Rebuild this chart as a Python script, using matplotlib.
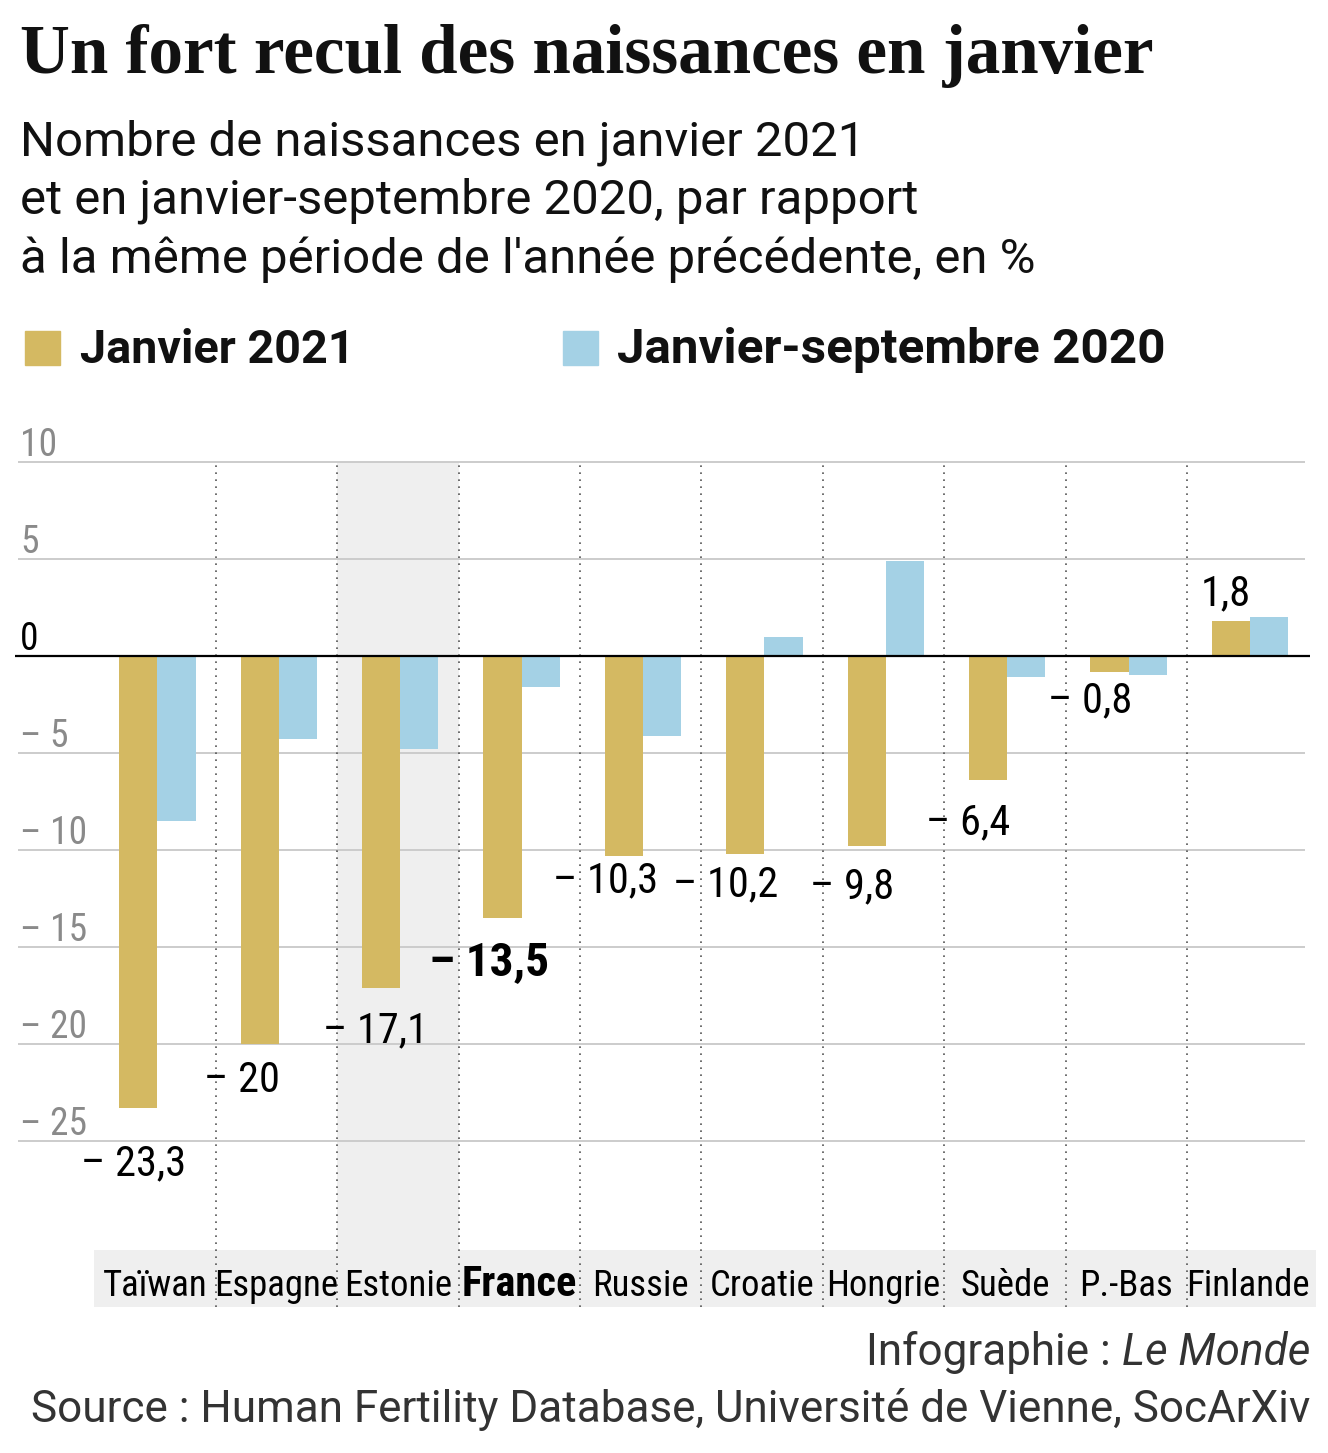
import matplotlib
matplotlib.use("Agg")
import matplotlib.pyplot as plt
from matplotlib import font_manager
from matplotlib.patches import Rectangle

# ---------------- data ----------------
countries = ["Taïwan", "Espagne", "Estonie", "France", "Russie",
             "Croatie", "Hongrie", "Suède", "P.-Bas", "Finlande"]
jan_2021 = [-23.3, -20.0, -17.1, -13.5, -10.3, -10.2, -9.8, -6.4, -0.8, 1.8]
jan_sep_2020 = [-8.5, -4.3, -4.8, -1.6, -4.1, 1.0, 4.9, -1.1, -1.0, 2.0]
value_labels = ["– 23,3", "– 20", "– 17,1", "– 13,5", "– 10,3",
                "– 10,2", "– 9,8", "– 6,4", "– 0,8", "1,8"]
yticks = [10, 5, 0, -5, -10, -15, -20, -25]
ytick_labels = ["10", "5", "0", "– 5", "– 10", "– 15", "– 20", "– 25"]
highlight = "France"
shaded = "Estonie"

# label placement offsets (data units, relative to category / bar end)
label_dx = [-0.18, -0.28, -0.18, -0.25, -0.29, -0.30, -0.26, -0.30, -0.30, -0.18]
label_dy = [-2.9, -1.9, -2.2, -2.3, -1.3, -1.6, -2.1, -2.2, -1.5, 1.4]

GOLD = "#d4b962"
BLUE = "#a4d1e5"

avail = set(f.name for f in font_manager.fontManager.ttflist)

def pick(cands):
    for c in cands:
        if c in avail:
            return c
    return "DejaVu Sans"

NARROW = pick(["Roboto Condensed", "Liberation Sans Narrow", "DejaVu Sans Condensed", "Roboto"])
SANS = pick(["Roboto", "Inter", "Noto Sans", "DejaVu Sans"])
SERIF = pick(["Liberation Serif", "DejaVu Serif"])

W, H = 1328, 1453
fig = plt.figure(figsize=(W / 100, H / 100), dpi=100)
fig.patch.set_facecolor("white")

def fx(x):
    return x / W

def fy(y):
    return 1 - y / H

renderer = fig.canvas.get_renderer()

def fit(t, target_w):
    bb = t.get_window_extent(renderer)
    t.set_fontsize(t.get_fontsize() * target_w / bb.width)
    return t

# ---------------- axes ----------------
ax_l, ax_r, ax_t, ax_b = 15, 1316, 462, 1307
ax = fig.add_axes([fx(ax_l), fy(ax_b), (ax_r - ax_l) / W, (ax_b - ax_t) / H])
cat0, catw = 155.0, 121.4
y0px, ppu = 656, 19.4
xmin = (ax_l - cat0) / catw
xmax = (ax_r - cat0) / catw
ymin = (y0px - ax_b) / ppu
ymax = 10
ax.set_xlim(xmin, xmax)
ax.set_ylim(ymin, ymax)
ax.axis("off")

def dx(px):
    return (px - cat0) / catw

def dy(py):
    return (y0px - py) / ppu

n = len(countries)
xs = list(range(n))
band_top = dy(1250)

# shaded column
si = countries.index(shaded)
ax.add_patch(Rectangle((si - 0.5, ymin), 1, ymax - ymin, color="#efefef", zorder=0, lw=0))
# category label band
ax.add_patch(Rectangle((-0.5, ymin), xmax + 0.5, band_top - ymin, color="#efefef",
                       zorder=0, lw=0, clip_on=False))

# gridlines
for v in yticks:
    if v == 0:
        continue
    ax.hlines(v, dx(18), dx(1305), color="#cccccc", lw=1.4, zorder=1, clip_on=False)

# dotted separators
ax.vlines([i + 0.5 for i in range(n - 1)], ymin, ymax, color="#555555", lw=1.2,
          linestyles=(0, (1, 3.2)), zorder=2)

# bars
bw = 0.315
off = 0.02
ax.bar([x + off - bw / 2 for x in xs], jan_2021, width=bw, color=GOLD, zorder=3, lw=0)
ax.bar([x + off + bw / 2 for x in xs], jan_sep_2020, width=bw, color=BLUE, zorder=3, lw=0)

# zero line
ax.hlines(0, dx(15), dx(1310), color="black", lw=1.6, zorder=4, clip_on=False)

# y tick labels
for v, lab in zip(yticks, ytick_labels):
    ax.text(dx(20), v + 0.3, lab, ha="left", va="baseline",
            color="black" if v == 0 else "#8a8a8a",
            family=NARROW, fontsize=27, clip_on=False)

# value labels
for i, (v, lab) in enumerate(zip(jan_2021, value_labels)):
    bold = countries[i] == highlight
    ax.text(i + label_dx[i], v + label_dy[i], lab, ha="center", va="center",
            family=NARROW, fontsize=34 if bold else 30.5,
            fontweight="bold" if bold else "normal", color="black", zorder=5)

# category labels
for i, c in enumerate(countries):
    bold = c == highlight
    t = ax.text(i, dy(1296), c, ha="center", va="baseline", family=NARROW,
                fontsize=26.5, fontweight="bold" if bold else "normal", color="black",
                zorder=5, clip_on=False)
    if bold:
        fit(t, 115)

# ---------------- header ----------------
t = fig.text(fx(20), fy(73), "Un fort recul des naissances en janvier", ha="left",
             va="baseline", family=SERIF, fontweight="bold", fontsize=40, color="#111111")
fit(t, 1132)

sub_lines = ["Nombre de naissances en janvier 2021",
             "et en janvier-septembre 2020, par rapport",
             "à la même période de l'année précédente, en %"]
sub_base = [155, 214, 273]
subs = [fig.text(fx(20), fy(b), s, ha="left", va="baseline", family=SANS, fontsize=30,
                 color="#111111") for s, b in zip(sub_lines, sub_base)]
fit(subs[2], 1015)
for s in subs[:2]:
    s.set_fontsize(subs[2].get_fontsize())

# legend
fig.patches.append(Rectangle((fx(25), fy(365)), 35 / W, 34 / H, transform=fig.transFigure,
                             color=GOLD, figure=fig))
fig.patches.append(Rectangle((fx(563), fy(365)), 35 / W, 34 / H, transform=fig.transFigure,
                             color=BLUE, figure=fig))
l1 = fig.text(fx(80), fy(363), "Janvier 2021", ha="left", va="baseline", family=SANS,
              fontweight="bold", fontsize=30, color="#111111")
fit(l1, 275)
l2 = fig.text(fx(617), fy(363), "Janvier-septembre 2020", ha="left", va="baseline",
              family=SANS, fontweight="bold", fontsize=30, color="#111111")
fit(l2, 548)

# ---------------- footer ----------------
FOOT = "#333333"
f1b = fig.text(fx(1310), fy(1365), "Le Monde", ha="right", va="baseline", family=SANS,
               fontstyle="italic", fontsize=28, color=FOOT)
f2 = fig.text(fx(1310), fy(1422),
              "Source : Human Fertility Database, Université de Vienne, SocArXiv",
              ha="right", va="baseline", family=SANS, fontsize=28, color=FOOT)
fit(f2, 1275)
f1b.set_fontsize(f2.get_fontsize())
bb = f1b.get_window_extent(renderer)
f1a = fig.text(bb.x0 / W, fy(1365), "Infographie : ", ha="right", va="baseline",
               family=SANS, fontsize=f2.get_fontsize(), color=FOOT)

fig.savefig("out.png", dpi=100, facecolor="white")
